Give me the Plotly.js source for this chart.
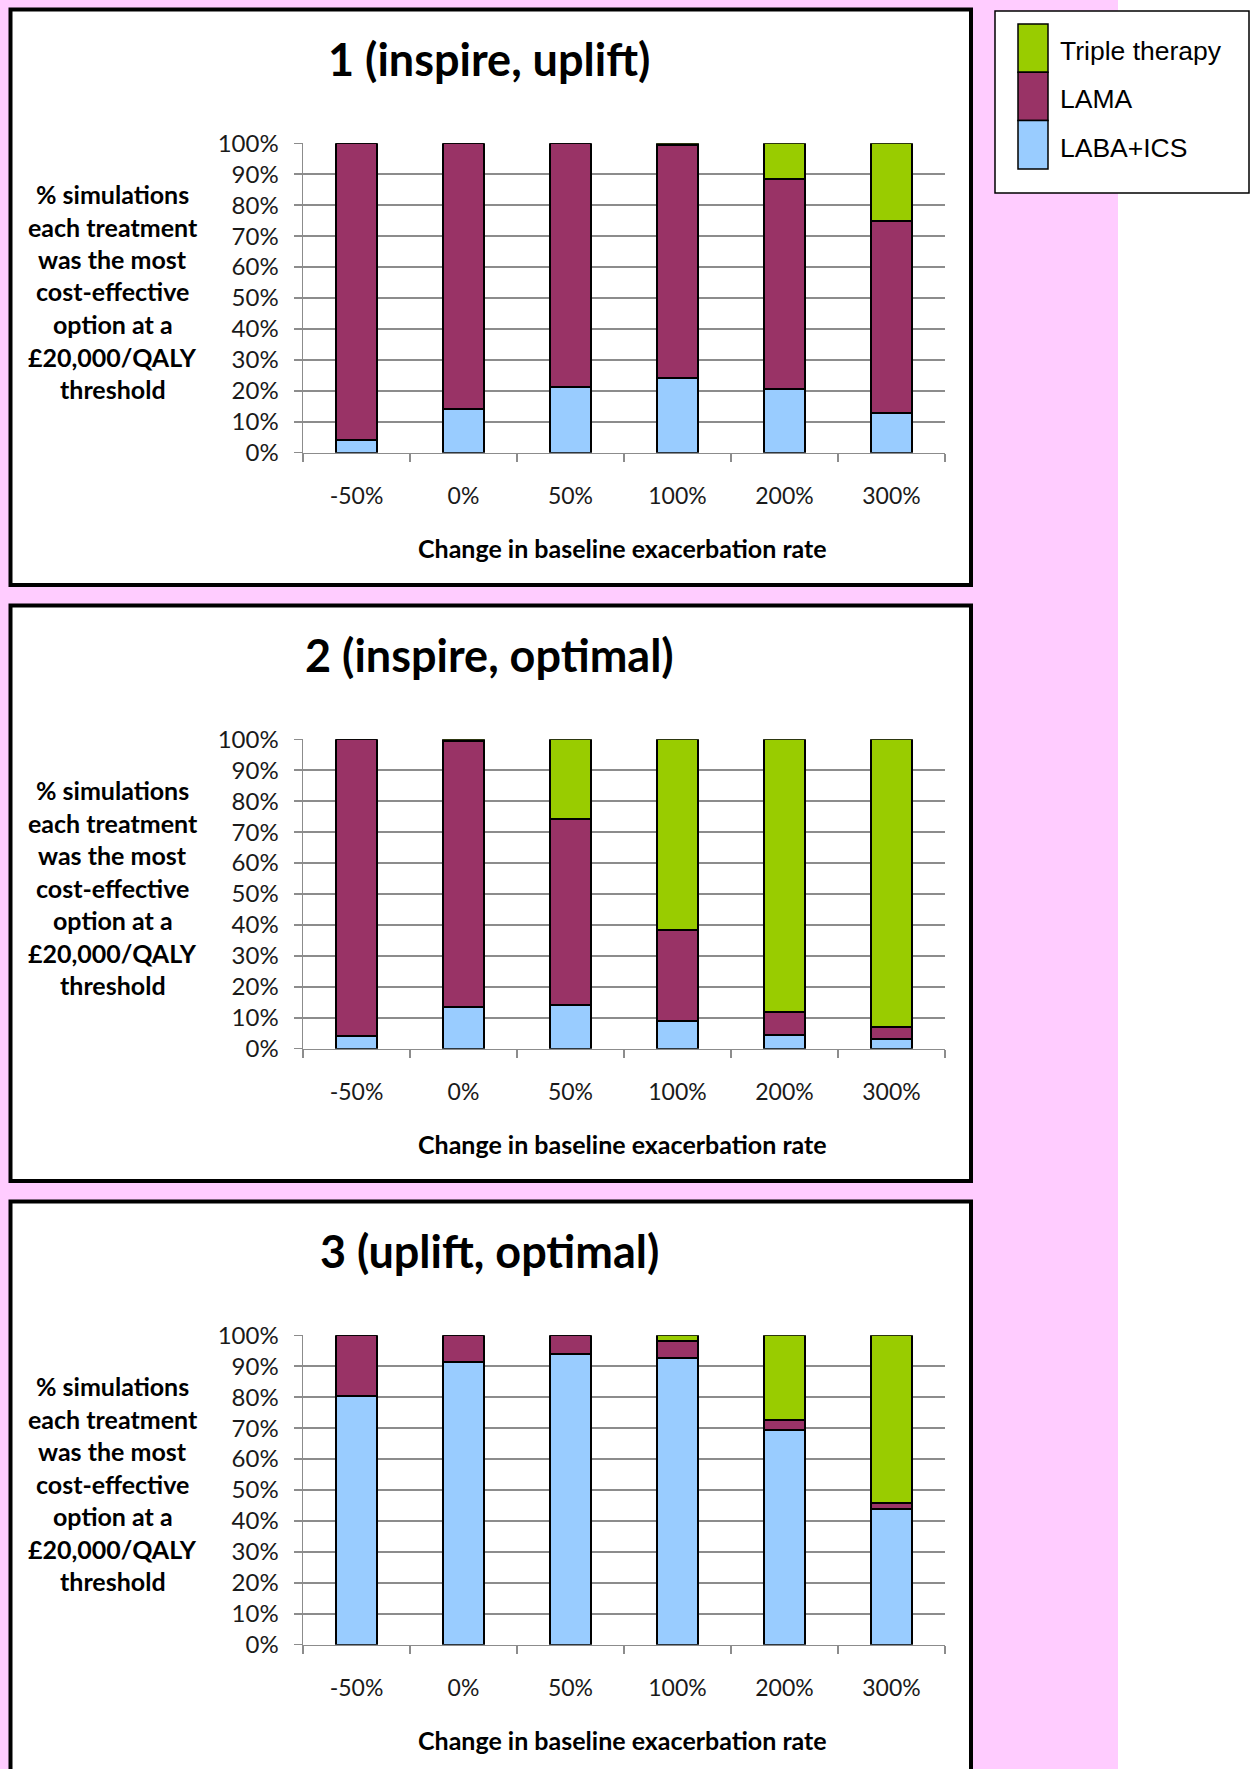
<!DOCTYPE html>
<html>
<head>
<meta charset="utf-8">
<script src="https://cdn.plot.ly/plotly-3.0.1.min.js"></script>
<style>
html,body{margin:0;padding:0;background:#ffffff;}
#chart{width:1254px;height:1769px;}
</style>
</head>
<body>
<div id="chart"></div>
<script>
// ---------------- DATA ----------------
const categories = ['-50%', '0%', '50%', '100%', '200%', '300%'];
const seriesNames = ['LABA+ICS', 'LAMA', 'Triple therapy'];
const panelTitles = ['1 (inspire, uplift)', '2 (inspire, optimal)', '3 (uplift, optimal)'];
const yTitleLines = ['% simulations', 'each treatment', 'was the most', 'cost-effective', 'option at a', '£20,000/QALY', 'threshold'];
const xTitle = 'Change in baseline exacerbation rate';

// panel 1 (inspire, uplift)
const laba1   = [4.0, 14.0, 21.3, 24.2, 20.5, 12.9];
const lama1   = [96.0, 86.0, 78.7, 75.3, 68.1, 62.0];
const triple1 = [0, 0, 0, 0.5, 11.4, 25.1];
// panel 2 (inspire, optimal)
const laba2   = [4.1, 13.5, 14.0, 8.9, 4.5, 3.2];
const lama2   = [95.9, 85.9, 60.2, 29.6, 7.4, 3.9];
const triple2 = [0, 0.6, 25.8, 61.5, 88.1, 92.9];
// panel 3 (uplift, optimal)
const laba3   = [80.3, 91.5, 94.1, 92.7, 69.4, 43.8];
const lama3   = [19.7, 8.5, 5.9, 5.4, 3.2, 1.9];
const triple3 = [0, 0, 0, 1.9, 27.4, 54.3];

// ---------------- STYLE ----------------
const W = 1254, H = 1769;
const colors = {'LABA+ICS': '#99CCFF', 'LAMA': '#993366', 'Triple therapy': '#99CC00'};
const pink = '#FFCCFF';
const gridCol = '#8c8c8c';
const fontCal = 'Lato, "Open Sans", sans-serif';
const fontArial = '"Liberation Sans", Arial, sans-serif';

const px = x => x / W;
const py = y => 1 - y / H;

const panelData = [
  [laba1, lama1, triple1],
  [laba2, lama2, triple2],
  [laba3, lama3, triple3]
];

const OFFSET = 596;          // vertical distance between panels
const plotTop = 143.3, plotBot = 452.7;
const plotLeft = 303, plotRight = 945;

const traces = [];
const layout = {
  width: W, height: H,
  margin: {l: 0, r: 0, t: 0, b: 0},
  paper_bgcolor: pink,
  plot_bgcolor: '#ffffff',
  barmode: 'stack',
  bargap: 0.61,
  showlegend: false,
  shapes: [],
  annotations: []
};

// white strip on the right
layout.shapes.push({type: 'rect', xref: 'paper', yref: 'paper', x0: px(1118), x1: px(1260), y0: py(1800), y1: py(-20),
  fillcolor: '#ffffff', line: {width: 0}, layer: 'below'});

panelData.forEach((vals, p) => {
  const k = p + 1;
  const xa = k === 1 ? 'x' : 'x' + k;
  const ya = k === 1 ? 'y' : 'y' + k;
  const off = OFFSET * p;

  vals.forEach((v, s) => {
    traces.push({
      type: 'bar', x: categories, y: v, name: seriesNames[s],
      xaxis: xa, yaxis: ya,
      marker: {color: colors[seriesNames[s]], line: {color: '#000000', width: 2}},
      hoverinfo: 'skip'
    });
  });

  layout['xaxis' + (k === 1 ? '' : k)] = {
    domain: [px(plotLeft), px(plotRight)],
    anchor: ya,
    type: 'category',
    tickson: 'boundaries',
    ticks: 'outside', ticklen: 8, tickwidth: 1.5, tickcolor: gridCol,
    showline: true, linecolor: gridCol, linewidth: 1.5,
    showgrid: false, zeroline: false,
    ticklabelstandoff: 22,
    tickfont: {family: fontCal, size: 23, color: '#1a1a1a'},
    automargin: false, fixedrange: true
  };
  layout['yaxis' + (k === 1 ? '' : k)] = {
    domain: [py(plotBot + off), py(plotTop + off)],
    anchor: xa,
    range: [0, 100], dtick: 10, tick0: 0, ticksuffix: '%',
    ticks: 'outside', ticklen: 8, tickwidth: 1.5, tickcolor: gridCol,
    showline: true, linecolor: gridCol, linewidth: 1.5,
    showgrid: true, gridcolor: gridCol, gridwidth: 1.5, zeroline: false,
    ticklabelstandoff: 10,
    tickfont: {family: fontCal, size: 24, color: '#1a1a1a'},
    automargin: false, fixedrange: true
  };

  // panel frame
  layout.shapes.push({type: 'rect', xref: 'paper', yref: 'paper',
    x0: px(10.5), x1: px(971), y0: py(p === 2 ? 1800 : 585 + off), y1: py(9.5 + off),
    fillcolor: '#ffffff', line: {color: '#000000', width: 4}, layer: 'below'});

  // panel title
  layout.annotations.push({xref: 'paper', yref: 'paper', x: px(489), y: py(59 + off),
    xanchor: 'center', yanchor: 'middle', showarrow: false,
    text: '<b>' + panelTitles[p] + '</b>',
    font: {family: fontCal, size: 45, color: '#000000'}});

  // y title (multi-line)
  yTitleLines.forEach((t, i) => {
    layout.annotations.push({xref: 'paper', yref: 'paper', x: px(113), y: py(194 + i * 32.5 + off),
      xanchor: 'center', yanchor: 'middle', showarrow: false,
      text: '<b>' + t + '</b>',
      font: {family: fontCal, size: 25, color: '#000000'}});
  });

  // x title
  layout.annotations.push({xref: 'paper', yref: 'paper', x: px(622), y: py(548 + off),
    xanchor: 'center', yanchor: 'middle', showarrow: false,
    text: '<b>' + xTitle + '</b>',
    font: {family: fontCal, size: 25, color: '#000000'}});
});

// ---------------- LEGEND (manual, Excel-like stacked swatches) ----------------
layout.shapes.push({type: 'rect', xref: 'paper', yref: 'paper', x0: px(995), x1: px(1249), y0: py(193), y1: py(11),
  fillcolor: '#ffffff', line: {color: '#000000', width: 1.5}, layer: 'below'});
const legendOrder = ['Triple therapy', 'LAMA', 'LABA+ICS'];
legendOrder.forEach((name, i) => {
  const top = 24 + i * 48.3;
  layout.shapes.push({type: 'rect', xref: 'paper', yref: 'paper', x0: px(1018), x1: px(1048),
    y0: py(top + 48.3), y1: py(top), fillcolor: colors[name], line: {color: '#000000', width: 1.5}});
  layout.annotations.push({xref: 'paper', yref: 'paper', x: px(1058), y: py(top + 27),
    xanchor: 'left', yanchor: 'middle', showarrow: false, text: name,
    font: {family: fontArial, size: 26.5, color: '#000000'}});
});

Plotly.newPlot('chart', traces, layout, {staticPlot: true, displayModeBar: false});
</script>
</body>
</html>
